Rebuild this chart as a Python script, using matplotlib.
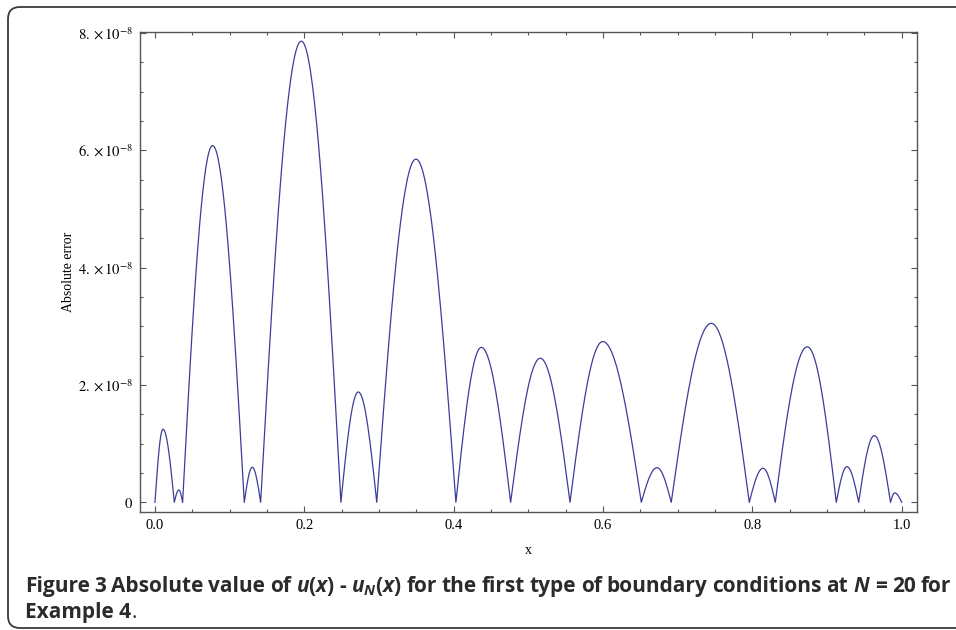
import matplotlib
matplotlib.use("Agg")
import matplotlib.pyplot as plt
import numpy as np
from matplotlib.patches import FancyBboxPatch
from matplotlib.ticker import MultipleLocator

# zeros of the error curve and the top of each arch in between
zeros = [0.0, 0.0259, 0.037, 0.1196, 0.1415, 0.249, 0.297, 0.403, 0.4763, 0.5558,
         0.6513, 0.6914, 0.7959, 0.8307, 0.9124, 0.9424, 0.985, 1.0]
peak_x = [0.0107, 0.032, 0.0772, 0.1303, 0.196, 0.2723, 0.3495, 0.437, 0.516, 0.5996,
          0.6723, 0.745, 0.8143, 0.8736, 0.9267, 0.9633, 0.9906]
peak_y = [1.245, 0.21, 6.08, 0.597, 7.86, 1.88, 5.85, 2.64, 2.455, 2.74,
          0.59, 3.05, 0.58, 2.65, 0.607, 1.136, 0.16]  # in units of 1e-8

y_ticks = [0, 2e-8, 4e-8, 6e-8, 8e-8]
y_labels = ["$0$", r"$2.\times 10^{-8}$", r"$4.\times 10^{-8}$",
            r"$6.\times 10^{-8}$", r"$8.\times 10^{-8}$"]
x_ticks = [0.0, 0.2, 0.4, 0.6, 0.8, 1.0]
x_labels = ["0.0", "0.2", "0.4", "0.6", "0.8", "1.0"]

# build the arches (each one rises and falls like |sin| between two zeros)
xs, ys = [], []
for i in range(len(peak_x)):
    a, b, p, h = zeros[i], zeros[i + 1], peak_x[i], peak_y[i] * 1e-8
    t1 = np.linspace(a, p, 40)
    t2 = np.linspace(p, b, 40)[1:]
    xs += list(t1) + list(t2)
    ys += list(h * np.sin(np.pi / 2 * (t1 - a) / (p - a)))
    ys += list(h * np.sin(np.pi / 2 * (b - t2) / (b - p)))

plt.rcParams["font.family"] = "Liberation Serif"
plt.rcParams["mathtext.fontset"] = "stix"
plt.rcParams["mathtext.it"] = "Open Sans:italic:bold"
plt.rcParams["mathtext.rm"] = "Open Sans:bold"
plt.rcParams["mathtext.bf"] = "Open Sans:bold"

W, H = 956, 630
fig = plt.figure(figsize=(W / 100, H / 100), dpi=100)
ax = fig.add_axes([0.1464, 0.1878, 0.8125, 0.7609])

ax.plot(xs, ys, color="#3d3d99", lw=0.9)

ax.set_xlim(-0.0201, 1.0201)
ax.set_ylim(-0.16e-8, 8.01e-8)
ax.set_xticks(x_ticks, x_labels)
ax.set_yticks(y_ticks, y_labels)
ax.xaxis.set_minor_locator(MultipleLocator(0.05))
ax.yaxis.set_minor_locator(MultipleLocator(0.5e-8))
ax.tick_params(which="both", direction="in", top=True, right=True,
               color="#555555", labelsize=10.5, pad=5)
ax.tick_params(which="major", length=4.5, width=0.8)
ax.tick_params(which="minor", length=2.5, width=0.8)
for s in ax.spines.values():
    s.set_color("#555555")
    s.set_linewidth(1.0)

ax.set_xlabel("x", fontsize=10)
ax.set_ylabel("Absolute error", fontsize=10)
ax.xaxis.set_label_coords(0.5, -0.068)
ax.yaxis.set_label_coords(-0.084, 0.5)

# rounded frame round the whole figure
box = FancyBboxPatch((8, 2), 1000, 621, boxstyle="round,pad=0,rounding_size=12",
                     transform=None, fill=False, ec="#3a3a3a", lw=1.3)
fig.patches.append(box)

# caption, justified across the first line
cap = "#2b2b2b"
bold = dict(fontfamily="Open Sans", fontweight="bold", fontsize=15, color=cap,
            math_fontfamily="custom")
line1 = ["Figure", "3", "Absolute", "value", "of", "$u(x)$", "-", "$u_N(x)$", "for",
         "the", "first", "type", "of", "boundary", "conditions", "at", "$N$", "=",
         "20", "for"]

fig.canvas.draw()
r = fig.canvas.get_renderer()

objs = [fig.text(0, 1 - 591.7 / H, w, va="baseline", **bold) for w in line1]
widths = [o.get_window_extent(r).width for o in objs]
x0, x1 = 25, 951
gap = (x1 - x0 - sum(widths)) / (len(objs) - 1)
x = x0
for o, w in zip(objs, widths):
    o.set_x(x / W)
    x += w + gap

y2 = 1 - 618.3 / H
t_ex = fig.text(25 / W, y2, "Example 4", va="baseline", **bold)
wex = t_ex.get_window_extent(r).width
fig.text((25 + wex) / W, y2, ".", va="baseline", fontfamily="Open Sans",
         fontsize=15, color=cap)

fig.savefig("out.png", dpi=100)
